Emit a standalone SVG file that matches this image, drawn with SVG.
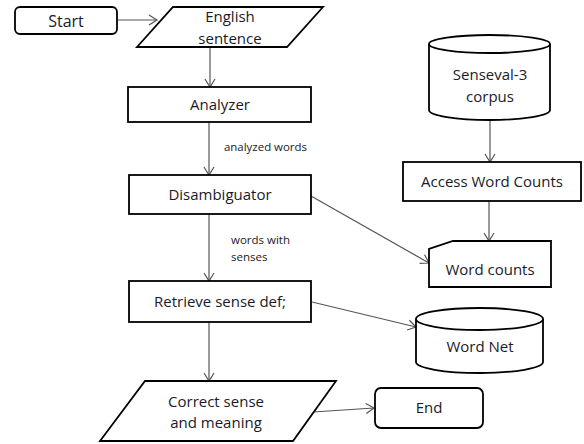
<svg xmlns="http://www.w3.org/2000/svg" width="584" height="444" viewBox="0 0 584 444">
<defs>
<style>
.n{fill:#fff;stroke:#000;stroke-width:1.8}
.t{font-family:"Open Sans","Liberation Sans",sans-serif;font-size:15px;fill:#1a1a2a;text-anchor:middle}
.s{font-family:"Open Sans","Liberation Sans",sans-serif;font-size:11.5px;fill:#1a1a1a}
.c{fill:none;stroke:#555;stroke-width:1.2}
</style>
<marker id="a" markerWidth="12" markerHeight="12" refX="10" refY="6" orient="auto" markerUnits="userSpaceOnUse">
<path d="M2,1 L10,6 L2,11" fill="none" stroke="#555" stroke-width="1.2"/>
</marker>
</defs>
<rect width="584" height="444" fill="#fff"/>
<g id="connectors">
<line class="c" x1="117" y1="20" x2="157" y2="20" marker-end="url(#a)"/>
<line class="c" x1="210" y1="47" x2="210" y2="87" marker-end="url(#a)"/>
<line class="c" x1="209" y1="122" x2="209" y2="175" marker-end="url(#a)"/>
<line class="c" x1="209" y1="214" x2="209" y2="281" marker-end="url(#a)"/>
<line class="c" x1="209" y1="322" x2="209" y2="381" marker-end="url(#a)"/>
<line class="c" x1="313" y1="412" x2="374" y2="408" marker-end="url(#a)"/>
<line class="c" x1="312" y1="302" x2="416" y2="327" marker-end="url(#a)"/>
<line class="c" x1="311" y1="196" x2="429" y2="263" marker-end="url(#a)"/>
<line class="c" x1="490" y1="120" x2="490" y2="162" marker-end="url(#a)"/>
<line class="c" x1="489" y1="201" x2="489" y2="241" marker-end="url(#a)"/>
<text class="s" x="224" y="151" textLength="83" lengthAdjust="spacingAndGlyphs">analyzed words</text>
<text class="s" x="231" y="244">words with</text>
<text class="s" x="231" y="261">senses</text>
</g>
<g id="start">
<rect class="n" x="15" y="7" width="102" height="27" rx="5"/>
<text class="t" x="66" y="27" style="font-size:16px">Start</text>
</g>
<g id="english">
<path class="n" d="M173,7 L323,7 L287,47 L137,47 Z"/>
<text class="t" x="230" y="22">English</text>
<text class="t" x="230" y="44">sentence</text>
</g>
<g id="analyzer">
<rect class="n" x="128" y="87" width="183" height="35"/>
<text class="t" x="220" y="110">Analyzer</text>
</g>
<g id="disambiguator">
<rect class="n" x="129" y="175" width="182" height="39"/>
<text class="t" x="220" y="200">Disambiguator</text>
</g>
<g id="retrieve">
<rect class="n" x="129" y="281" width="182" height="41"/>
<text class="t" x="220" y="307">Retrieve sense  def;</text>
</g>
<g id="correct">
<path class="n" d="M145,381 L336,381 L293,441 L100,441 Z"/>
<text class="t" x="216" y="407">Correct sense</text>
<text class="t" x="216" y="428">and meaning</text>
</g>
<g id="end">
<rect class="n" x="375" y="388" width="108" height="40" rx="6"/>
<text class="t" x="429" y="413">End</text>
</g>
<g id="wordnet">
<path class="n" d="M416,319 A63.5,11 0 0 1 543,319 L543,362 A63.5,11 0 0 1 416,362 Z"/>
<path class="n" fill="none" d="M416,319 A63.5,11 0 0 0 543,319"/>
<text class="t" x="480" y="352">Word Net</text>
</g>
<g id="senseval">
<path class="n" d="M429,44 A60.5,9 0 0 1 550,44 L550,110 A60.5,10 0 0 1 429,110 Z"/>
<path class="n" fill="none" d="M429,44 A60.5,9 0 0 0 550,44"/>
<text class="t" x="490" y="80">Senseval-3</text>
<text class="t" x="490" y="102">corpus</text>
</g>
<g id="access">
<rect class="n" x="403" y="162" width="178" height="39"/>
<text class="t" x="492" y="187">Access Word Counts</text>
</g>
<g id="wordcounts">
<path class="n" d="M453,241 L551,241 L551,287 L429,287 L429,249 Z"/>
<text class="t" x="490" y="275">Word counts</text>
</g>
</svg>
